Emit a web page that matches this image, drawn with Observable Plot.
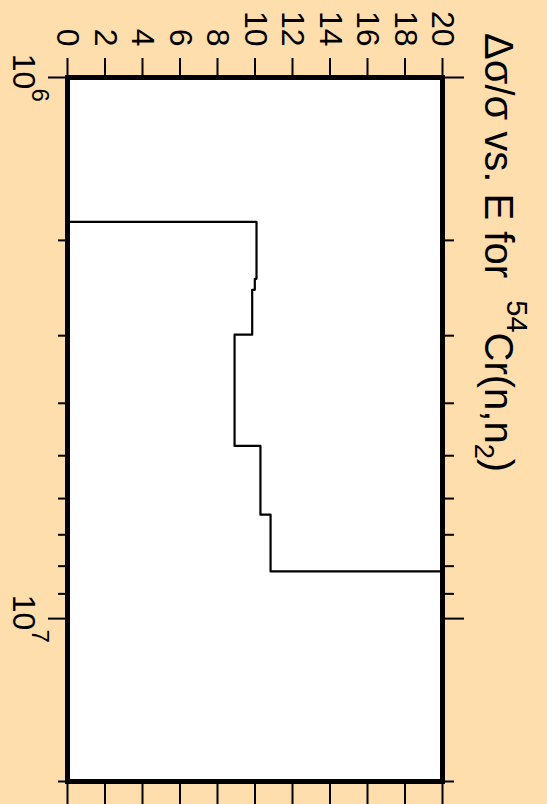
<!DOCTYPE html>
<html>
<head>
<meta charset="utf-8">
<script src="https://cdn.jsdelivr.net/npm/d3@7"></script>
<script src="https://cdn.jsdelivr.net/npm/@observablehq/plot@0.6"></script>
<style>
  html, body { margin: 0; padding: 0; background: #FFDEAD; }
  #wrap { position: relative; width: 547px; height: 804px; overflow: hidden; background: #FFDEAD; }
  #wrap svg { position: absolute !important; left: 0; top: 0; width: 804px !important; height: 547px !important; max-width: none !important; transform-origin: 0 0; transform: translate(547px, 0) rotate(90deg); }
</style>
</head>
<body>
<div id="wrap"></div>
<script>
// Energy group edges (eV) and relative uncertainty Δσ/σ (%) — step-after
const energyEdges = [1e6, 1.849e6, 2.355e6, 2.468e6, 2.987e6, 4.795e6, 6.427e6, 8.182e6, 2e7];
const relUnc      = [0,   10.08,   9.99,    9.85,    8.91,    10.29,   10.83,   20,      20];
const yTicks = [0, 2, 4, 6, 8, 10, 12, 14, 16, 18, 20];
const xMajor = [1e6, 1e7];
const xMinor = [2e6, 3e6, 4e6, 5e6, 6e6, 7e6, 8e6, 9e6, 2e7];
const titleMain = "Δσ/σ vs. E for  ";
const titleSup = "54";
const titleNuc = "Cr(n,n";
const titleSub = "2";
const titleEnd = ")";

const data = energyEdges.map((e, i) => ({e, v: relUnc[i]}));
const font = "'Liberation Sans', Arial, Helvetica, sans-serif";

const plot = Plot.plot({
  width: 804,
  height: 547,
  marginLeft: 77,
  marginRight: 23,
  marginTop: 104,
  marginBottom: 68,
  style: {background: "transparent", fontFamily: font, color: "black", overflow: "visible"},
  x: {type: "log", domain: [1e6, 2e7]},
  y: {domain: [0, 20]},
  marks: [
    Plot.frame({fill: "white", stroke: null}),
    Plot.line(data, {x: "e", y: "v", curve: "step-after", stroke: "black", strokeWidth: 2.2}),
    Plot.frame({stroke: "black", strokeWidth: 5}),
    Plot.axisY({anchor: "left", ticks: yTicks, tickSize: 19, tickPadding: 12, fontSize: 32, strokeWidth: 2, tickFormat: d => String(d), label: null}),
    Plot.axisY({anchor: "right", ticks: yTicks, tickSize: 22, strokeWidth: 2, tickFormat: () => "", label: null}),
    Plot.axisX({anchor: "bottom", ticks: xMinor, tickSize: 10, strokeWidth: 2, tickFormat: () => "", label: null}),
    Plot.axisX({anchor: "bottom", ticks: xMajor, tickSize: 20, strokeWidth: 2, tickFormat: () => "", label: null}),
    Plot.axisX({anchor: "top", ticks: xMinor, tickSize: 12, strokeWidth: 2, tickFormat: () => "", label: null}),
    Plot.axisX({anchor: "top", ticks: xMajor, tickSize: 22, strokeWidth: 2, tickFormat: () => "", label: null}),
    Plot.text(xMajor, {x: d => d, frameAnchor: "bottom", text: () => "10", textAnchor: "middle", lineAnchor: "bottom", dx: -6, dy: 55, fontSize: 32, fill: "black"}),
    Plot.text(xMajor, {x: d => d, frameAnchor: "bottom", text: d => String(Math.round(Math.log10(d))), textAnchor: "start", lineAnchor: "bottom", dx: 11, dy: 36, fontSize: 24, fill: "black"})
  ]
});

const svg = d3.select(plot);
const t = svg.append("text")
  .attr("x", 33).attr("y", 62).attr("text-anchor", "start")
  .attr("font-family", font).attr("font-size", 40).attr("fill", "black");
t.append("tspan").text(titleMain);
t.append("tspan").attr("dy", -22).attr("font-size", 29).text(titleSup);
t.append("tspan").attr("dy", 22).attr("font-size", 40).text(titleNuc);
t.append("tspan").attr("dy", 10).attr("font-size", 27).text(titleSub);
t.append("tspan").attr("dy", -10).attr("font-size", 40).text(titleEnd);

document.getElementById("wrap").appendChild(plot);
</script>
</body>
</html>
